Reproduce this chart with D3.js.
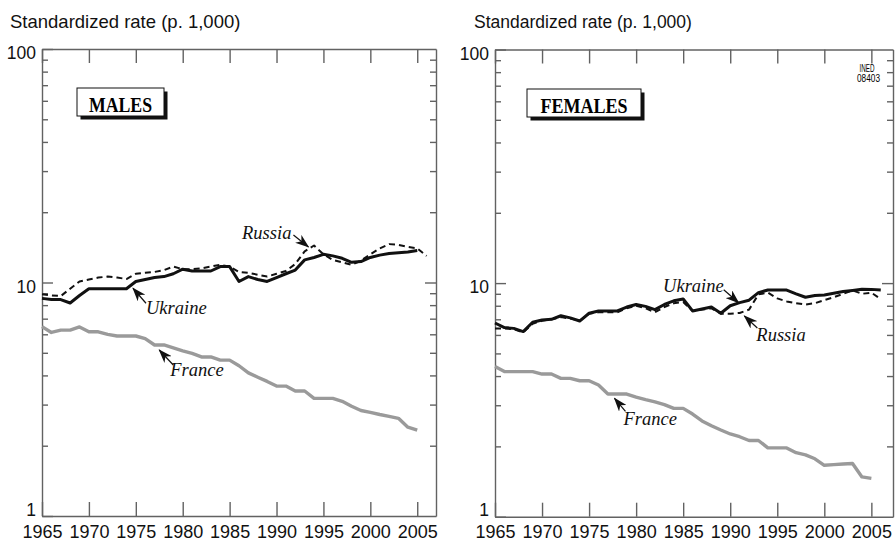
<!DOCTYPE html>
<html>
<head>
<meta charset="utf-8">
<script src="https://cdn.jsdelivr.net/npm/d3@7"></script>
<style>
  body { margin: 0; background: #fff; }
  svg { display: block; }
  .axis path, .axis line { stroke: #626262; stroke-width: 1.4; }
  .axis text { font-family: "Liberation Sans", Arial, sans-serif; fill: #111; }
  .note { font-family: "Liberation Serif", "Times New Roman", serif; font-style: italic; font-size: 18.5px; fill: #111; }
</style>
</head>
<body>
<div id="chart"></div>
<script>
// data: standardized rates per 1,000, one value per year from firstYear
const firstYear = 1965;
const yearTicks = [1965, 1970, 1975, 1980, 1985, 1990, 1995, 2000, 2005];
const rateTicks = [1, 10, 100];
const minorTicks = [2, 3, 4, 5, 6, 7, 8, 9, 20, 30, 40, 50, 60, 70, 80, 90];

const maleUkraine = [8.55, 8.45, 8.45, 8.17, 8.8, 9.4, 9.4, 9.4, 9.4, 9.4,
  10.1, 10.3, 10.5, 10.6, 10.9, 11.4, 11.2, 11.2, 11.2, 11.7,
  11.7, 10.1, 10.6, 10.3, 10.1, 10.5, 10.9, 11.3, 12.5, 12.8,
  13.2, 13.0, 12.7, 12.2, 12.3, 12.8, 13.1, 13.3, 13.4, 13.5, 13.7];
const maleRussia = [8.9, 8.8, 8.75, 9.4, 10.1, 10.3, 10.5, 10.6, 10.5, 10.35,
  10.9, 11.0, 11.1, 11.3, 11.7, 11.4, 11.4, 11.5, 11.7, 11.9,
  11.7, 11.1, 11.0, 10.8, 10.6, 10.9, 11.2, 12.0, 13.6, 14.4,
  13.2, 12.5, 12.2, 11.9, 12.4, 13.2, 14.0, 14.6, 14.5, 14.2, 14.0, 13.0];
const maleFrance = [6.47, 6.11, 6.25, 6.25, 6.45, 6.15, 6.15, 6.0, 5.9, 5.9,
  5.9, 5.75, 5.4, 5.4, 5.25, 5.1, 4.97, 4.8, 4.8, 4.65,
  4.65, 4.4, 4.1, 3.93, 3.77, 3.6, 3.6, 3.43, 3.43, 3.19,
  3.19, 3.19, 3.1, 2.95, 2.83, 2.78, 2.72, 2.67, 2.62, 2.4, 2.33];

const femaleUkraine = [6.75, 6.45, 6.4, 6.2, 6.8, 6.95, 7.0, 7.25, 7.1, 6.88,
  7.43, 7.6, 7.6, 7.6, 7.9, 8.1, 7.95, 7.7, 8.1, 8.4,
  8.55, 7.6, 7.75, 7.9, 7.43, 8.0, 8.25, 8.45, 9.1, 9.34,
  9.34, 9.34, 9.0, 8.7, 8.85, 8.9, 9.05, 9.2, 9.3, 9.42, 9.4, 9.34];
const femaleRussia = [6.4, 6.4, 6.35, 6.15, 6.7, 6.9, 7.0, 7.15, 7.05, 6.9,
  7.4, 7.5, 7.5, 7.5, 7.8, 8.0, 7.8, 7.5, 7.9, 8.2,
  8.3, 7.6, 7.7, 7.8, 7.4, 7.4, 7.45, 7.7, 8.95, 9.1,
  8.6, 8.35, 8.2, 8.1, 8.2, 8.45, 8.7, 9.0, 9.3, 9.0, 9.1, 8.55];
const femaleFrance = [4.39, 4.18, 4.18, 4.18, 4.18, 4.08, 4.08, 3.91, 3.91, 3.82,
  3.82, 3.66, 3.35, 3.35, 3.35, 3.25, 3.17, 3.1, 3.02, 2.91,
  2.91, 2.75, 2.57, 2.45, 2.35, 2.26, 2.2, 2.12, 2.12, 1.97,
  1.97, 1.97, 1.88, 1.84, 1.77, 1.66, 1.67, 1.68, 1.69, 1.48, 1.46];

const maleNotes = [
  { text: "Russia", year: 1993.4, value: 14.2, dx: -17, dy: -8, anchor: "end", tail: [-15, -12] },
  { text: "Ukraine", year: 1974.7, value: 9.45, dx: 13, dy: 26, anchor: "start", tail: [13, 15] },
  { text: "France", year: 1977.5, value: 5.14, dx: 11, dy: 26, anchor: "start", tail: [14, 15] },
];
const femaleNotes = [
  { text: "Ukraine", year: 1990.9, value: 8.24, dx: -15, dy: -11, anchor: "end", tail: [-15, -13] },
  { text: "Russia", year: 1991.5, value: 7.23, dx: 12, dy: 25, anchor: "start", tail: [13, 12] },
  { text: "France", year: 1977.7, value: 3.21, dx: 9, dy: 27, anchor: "start", tail: [11, 13] },
];

const svg = d3.select("#chart").append("svg")
  .attr("width", 896)
  .attr("height", 542);

svg.append("defs").append("marker")
  .attr("id", "arrow")
  .attr("markerUnits", "userSpaceOnUse")
  .attr("viewBox", "0 -5 14 10")
  .attr("markerWidth", 14)
  .attr("markerHeight", 10)
  .attr("refX", 13)
  .attr("orient", "auto")
  .append("path")
  .attr("d", "M0,-5L14,0L0,5L4,0Z")
  .attr("fill", "#111");

const panels = [
  {
    left: 42, right: 436, top: 49, bottom: 516, xMax: 2007,
    titleX: 10, titleSize: 18.5,
    label: "MALES", box: [77, 88, 87, 28], labelWidth: 63,
    series: [
      { values: maleFrance, color: "#9a9a9a", width: 3.4 },
      { values: maleUkraine, color: "#111", width: 3 },
      { values: maleRussia, color: "#111", width: 2, dash: "6,4" },
    ],
    notes: maleNotes,
  },
  {
    left: 495, right: 893, top: 49.5, bottom: 516.7, xMax: 2007.3,
    titleX: 474, titleSize: 17.5,
    label: "FEMALES", box: [527, 89, 114, 28], labelWidth: 87,
    series: [
      { values: femaleFrance, color: "#9a9a9a", width: 3.4 },
      { values: femaleUkraine, color: "#111", width: 3 },
      { values: femaleRussia, color: "#111", width: 2, dash: "6,4" },
    ],
    notes: femaleNotes,
  },
];

panels.forEach(drawPanel);

// institute code, top right corner
svg.append("text")
  .attr("x", 867).attr("y", 71.5)
  .attr("text-anchor", "middle")
  .attr("textLength", 15).attr("lengthAdjust", "spacingAndGlyphs")
  .style("font-family", "Liberation Sans, Arial, sans-serif")
  .style("font-size", "11.5px")
  .text("INED");
svg.append("text")
  .attr("x", 868.5).attr("y", 82)
  .attr("text-anchor", "middle")
  .attr("textLength", 23).attr("lengthAdjust", "spacingAndGlyphs")
  .style("font-family", "Liberation Sans, Arial, sans-serif")
  .style("font-size", "11.5px")
  .text("08403");

function drawPanel(p) {
  const x = d3.scaleLinear().domain([firstYear, p.xMax]).range([p.left, p.right]);
  const y = d3.scaleLog().domain([1, 100]).range([p.bottom, p.top]);

  svg.append("text")
    .attr("x", p.titleX)
    .attr("y", 28)
    .style("font-family", "Liberation Sans, Arial, sans-serif")
    .style("font-size", p.titleSize + "px")
    .style("fill", "#111")
    .text("Standardized rate (p. 1,000)");

  // frame + ticks
  svg.append("g")
    .attr("class", "axis")
    .attr("transform", `translate(0,${p.bottom})`)
    .call(d3.axisBottom(x).tickValues(yearTicks).tickFormat(d3.format("d"))
      .tickSize(-14).tickSizeOuter(0).tickPadding(9))
    .selectAll("text")
    .style("font-size", "18px");

  svg.append("g")
    .attr("class", "axis")
    .attr("transform", `translate(0,${p.top})`)
    .call(d3.axisTop(x).tickValues(yearTicks).tickFormat("")
      .tickSize(-14).tickSizeOuter(0));

  svg.append("g")
    .attr("class", "axis")
    .attr("transform", `translate(${p.left},0)`)
    .call(d3.axisLeft(y).tickValues(minorTicks).tickFormat("")
      .tickSize(-6).tickSizeOuter(0));

  svg.append("g")
    .attr("class", "axis")
    .attr("transform", `translate(${p.left},0)`)
    .call(d3.axisLeft(y).tickValues(rateTicks).tickFormat(d3.format("d"))
      .tickSize(-11).tickSizeOuter(0).tickPadding(6))
    .call((g) => g.select(".domain").remove())
    .selectAll("text")
    .attr("dy", null)
    .attr("y", (d) => (d === 1 ? -1 : 9.5))
    .style("font-size", "17.5px");

  svg.append("g")
    .attr("class", "axis")
    .attr("transform", `translate(${p.right},0)`)
    .call(d3.axisRight(y).tickValues(minorTicks).tickFormat("")
      .tickSize(-6).tickSizeOuter(0));

  svg.append("g")
    .attr("class", "axis")
    .attr("transform", `translate(${p.right},0)`)
    .call(d3.axisRight(y).tickValues([10]).tickFormat("")
      .tickSize(-11).tickSizeOuter(0))
    .call((g) => g.select(".domain").remove());

  // series
  const line = d3.line()
    .x((d, i) => x(firstYear + i))
    .y((d) => y(d));

  p.series.forEach((s) => {
    svg.append("path")
      .datum(s.values)
      .attr("d", line)
      .attr("fill", "none")
      .attr("stroke", s.color)
      .attr("stroke-width", s.width)
      .attr("stroke-linejoin", "round")
      .attr("stroke-dasharray", s.dash || null);
  });

  // sex label box with shadow
  const [bx, by, bw, bh] = p.box;
  svg.append("rect")
    .attr("x", bx + 3.5).attr("y", by + 3.5)
    .attr("width", bw).attr("height", bh)
    .attr("fill", "#111");
  svg.append("rect")
    .attr("x", bx).attr("y", by)
    .attr("width", bw).attr("height", bh)
    .attr("fill", "#fff")
    .attr("stroke", "#111")
    .attr("stroke-width", 1);
  svg.append("text")
    .attr("x", bx + bw / 2)
    .attr("y", by + bh - 4.5)
    .attr("text-anchor", "middle")
    .attr("textLength", p.labelWidth)
    .attr("lengthAdjust", "spacingAndGlyphs")
    .style("font-family", "Liberation Serif, Times New Roman, serif")
    .style("font-weight", "bold")
    .style("font-size", "21px")
    .text(p.label);

  // country annotations
  p.notes.forEach((n) => {
    const tx = x(n.year);
    const ty = y(n.value);
    svg.append("line")
      .attr("x1", tx + n.tail[0]).attr("y1", ty + n.tail[1])
      .attr("x2", tx).attr("y2", ty)
      .attr("stroke", "#111")
      .attr("stroke-width", 1.2)
      .attr("marker-end", "url(#arrow)");
    svg.append("text")
      .attr("class", "note")
      .attr("x", tx + n.dx)
      .attr("y", ty + n.dy)
      .attr("text-anchor", n.anchor)
      .text(n.text);
  });
}
</script>
</body>
</html>
